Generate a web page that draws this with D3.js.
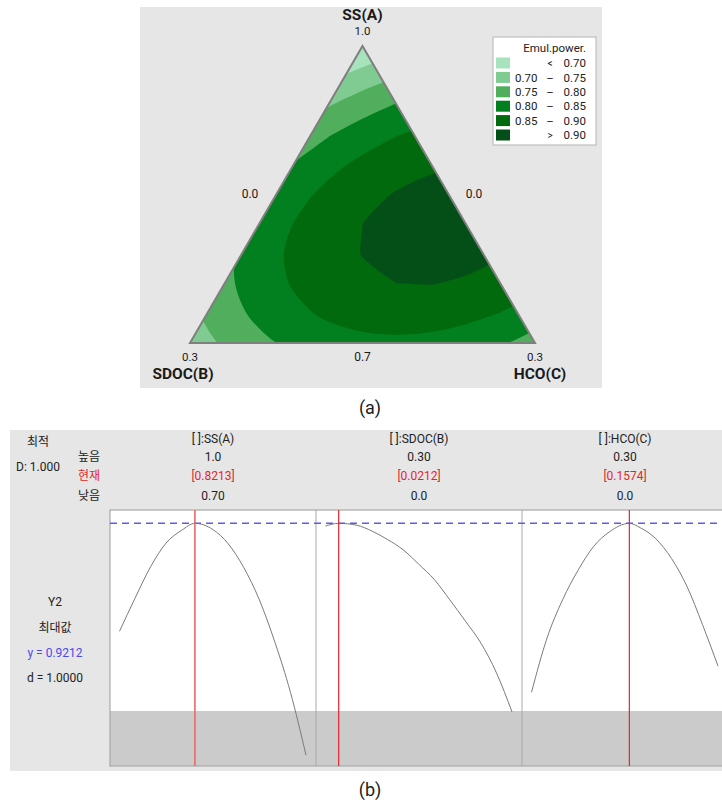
<!DOCTYPE html>
<html>
<head>
<meta charset="utf-8">
<script src="https://cdn.jsdelivr.net/npm/d3@7"></script>
<style>
body { margin: 0; background: #fff; overflow: hidden; }
text { font-family: Roboto, "Noto Sans CJK KR", sans-serif; }
</style>
</head>
<body>
<svg id="chart" width="722" height="806"></svg>
<script>
// ---------- (a) mixture contour data ----------
// columns: position across the base (0 = SDOC(B) corner, 1 = HCO(C) corner)
let gridU = [-0.1, 0, 0.1, 0.2, 0.3, 0.4, 0.5, 0.6, 0.7, 0.8, 0.9, 1.0, 1.1]
// rows: SS(A) pseudo component (0 = base, 1 = apex)
let gridV = [-0.1, 0, 0.1, 0.2, 0.3, 0.4, 0.5, 0.6, 0.7, 0.8, 0.9, 1.0, 1.1]
// Emul.power., one row per gridV value
let emulPower = [
    [0.648, 0.690, 0.724, 0.752, 0.773, 0.787, 0.793, 0.793, 0.786, 0.771, 0.7501, 0.722, 0.687],
    [0.676, 0.720, 0.758, 0.788, 0.812, 0.828, 0.838, 0.840, 0.836, 0.824, 0.806, 0.780, 0.748],
    [0.692, 0.739, 0.779, 0.812, 0.839, 0.858, 0.870, 0.876, 0.874, 0.865, 0.849, 0.827, 0.797],
    [0.696, 0.746, 0.789, 0.825, 0.854, 0.876, 0.892, 0.8997, 0.901, 0.895, 0.882, 0.862, 0.835],
    [0.689, 0.742, 0.788, 0.827, 0.859, 0.884, 0.901, 0.912, 0.916, 0.913, 0.903, 0.886, 0.862],
    [0.671, 0.726, 0.775, 0.817, 0.851, 0.879, 0.8999, 0.914, 0.920, 0.920, 0.913, 0.898, 0.877],
    [0.641, 0.699, 0.751, 0.795, 0.833, 0.863, 0.887, 0.903, 0.913, 0.915, 0.911, 0.899, 0.881],
    [0.600, 0.661, 0.715, 0.762, 0.803, 0.836, 0.862, 0.882, 0.894, 0.899, 0.898, 0.889, 0.873],
    [0.547, 0.611, 0.668, 0.718, 0.761, 0.797, 0.826, 0.849, 0.864, 0.872, 0.873, 0.867, 0.854],
    [0.483, 0.550, 0.609, 0.662, 0.708, 0.747, 0.779, 0.804, 0.822, 0.833, 0.837, 0.834, 0.823],
    [0.407, 0.477, 0.539, 0.595, 0.644, 0.686, 0.720, 0.748, 0.769, 0.782, 0.789, 0.789, 0.781],
    [0.320, 0.392, 0.458, 0.516, 0.568, 0.612, 0.650, 0.680, 0.704, 0.721, 0.730, 0.732, 0.728],
    [0.221, 0.297, 0.365, 0.426, 0.481, 0.528, 0.568, 0.602, 0.628, 0.647, 0.659, 0.665, 0.663]
]
let levels = [0.70, 0.75, 0.80, 0.85, 0.90]
let bandColors = ['#a7e3bc', '#80cb91', '#50ae5c', '#02801f', '#006a0c', '#044e18']
let legendLo = ['', '0.70', '0.75', '0.80', '0.85', '']
let legendSym = ['<', '–', '–', '–', '–', '>']
let legendHi = ['0.70', '0.75', '0.80', '0.85', '0.90', '0.90']
let legendTitle = 'Emul.power.'
let vertexNames = ['SDOC(B)', 'HCO(C)', 'SS(A)']
let vertexTicks = ['0.3', '0.3', '1.0']
let sideTicks = ['0.7', '0.0', '0.0'] // bottom, left, right

// ---------- (b) optimizer traces ----------
let factorNames = ['[ ]:SS(A)', '[ ]:SDOC(B)', '[ ]:HCO(C)']
let factorHigh = ['1.0', '0.30', '0.30']
let factorLow = ['0.70', '0.0', '0.0']
let factorMin = [0.70, 0, 0]
let factorMax = [1.0, 0.30, 0.30]
let factorCurrent = [0.8213, 0.0212, 0.1574]
let ssX = [0.70, 0.725, 0.75, 0.775, 0.80, 0.8213, 0.85, 0.875, 0.90, 0.925, 0.95, 0.975, 1.0]
let ssY = [0.794, 0.833, 0.870, 0.898, 0.913, 0.9212, 0.914, 0.897, 0.869, 0.831, 0.781, 0.722, 0.648]
let sdocX = [0, 0.0212, 0.05, 0.075, 0.10, 0.125, 0.15, 0.175, 0.20, 0.225, 0.25, 0.275, 0.30]
let sdocY = [0.918, 0.9212, 0.919, 0.912, 0.902, 0.890, 0.873, 0.855, 0.831, 0.806, 0.780, 0.745, 0.699]
let hcoX = [0, 0.025, 0.05, 0.075, 0.10, 0.125, 0.1574, 0.175, 0.20, 0.225, 0.25, 0.275, 0.30]
let hcoY = [0.722, 0.786, 0.831, 0.866, 0.894, 0.911, 0.9212, 0.916, 0.903, 0.880, 0.847, 0.802, 0.753]
let responseBest = 0.9212
let responseLower = 0.70

let svg = d3.select('#chart')
const red = '#e3262c'
const ink = '#222'

// ================= (a) =================
let uScale = d3.scaleLinear().domain([0, 1]).range([190, 535])
let vScale = d3.scaleLinear().domain([0, 1]).range([343, 46])

svg.append('rect').attr('x', 140).attr('y', 7).attr('width', 462).attr('height', 381).attr('fill', '#e6e6e6')

let corners = [[0, 0], [1, 0], [0.5, 1]]
let triPath = 'M' + corners.map(p => uScale(p[0]) + ',' + vScale(p[1])).join('L') + 'Z'
svg.append('clipPath').attr('id', 'triClip').append('path').attr('d', triPath)

let tri = svg.append('g').attr('clip-path', 'url(#triClip)')
tri.append('path').attr('d', triPath).attr('fill', bandColors[0])

let nu = gridU.length, nv = gridV.length
let contours = d3.contours().size([nu, nv]).thresholds(levels)(d3.merge(emulPower))
let gi = d3.scaleLinear().domain([0.5, nu - 0.5]).range([gridU[0], gridU[nu - 1]])
let gj = d3.scaleLinear().domain([0.5, nv - 0.5]).range([gridV[0], gridV[nv - 1]])
let ringLine = d3.line()
    .x(p => uScale(gi(p[0])))
    .y(p => vScale(gj(p[1])))
    .curve(d3.curveCatmullRomClosed.alpha(0.5))

function cleanRing(ring) {
    let pts = ring.slice(0, -1)
    return pts.filter((p, i) => {
        let q = pts[(i + 1) % pts.length]
        return Math.hypot(p[0] - q[0], p[1] - q[1]) > 1e-3
    })
}

tri.selectAll('path.band')
    .data(contours)
    .join('path')
    .attr('class', 'band')
    .attr('fill', (d, i) => bandColors[i + 1])
    .attr('fill-rule', 'evenodd')
    .attr('d', d => d.coordinates.map(poly => poly.map(ring => ringLine(cleanRing(ring))).join('')).join(''))

svg.append('path').attr('d', triPath).attr('fill', 'none').attr('stroke', '#7f7f7f').attr('stroke-width', 2)

// vertex names and ticks
let vx = [uScale(0) - 7, uScale(1) + 5, uScale(0.5)]
let nameY = [379, 379, 19.5]
let tickY = [361, 361, 34.5]
let tickX = [uScale(0), uScale(1), uScale(0.5)]
vertexNames.forEach((t, i) => {
    svg.append('text').text(t).attr('x', vx[i]).attr('y', nameY[i])
        .attr('text-anchor', 'middle').attr('font-size', 15.5).attr('font-weight', 'bold').attr('fill', '#1a1a1a')
    svg.append('text').text(vertexTicks[i]).attr('x', tickX[i]).attr('y', tickY[i])
        .attr('text-anchor', 'middle').attr('font-size', 11.5).attr('fill', '#1a1a1a')
})
let sidePos = [[uScale(0.5), 361], [250, 198], [474, 198]]
sideTicks.forEach((t, i) => {
    svg.append('text').text(t).attr('x', sidePos[i][0]).attr('y', sidePos[i][1])
        .attr('text-anchor', 'middle').attr('font-size', 12).attr('fill', '#1a1a1a')
})

// legend
let leg = svg.append('g')
leg.append('rect').attr('x', 493).attr('y', 37).attr('width', 103).attr('height', 108)
    .attr('fill', '#fff').attr('stroke', '#b4b4b4')
leg.append('text').text(legendTitle).attr('x', 586).attr('y', 51.5).attr('text-anchor', 'end')
    .attr('font-size', 11.5).attr('fill', ink)
let rowY = d3.scaleLinear().domain([0, 5]).range([63, 135])
bandColors.forEach((c, i) => {
    leg.append('rect').attr('x', 496).attr('y', rowY(i) - 5.5).attr('width', 14).attr('height', 11).attr('fill', c)
    leg.append('text').text(legendLo[i]).attr('x', 515).attr('y', rowY(i) + 4.2).attr('font-size', 11.5).attr('fill', ink)
    leg.append('text').text(legendSym[i]).attr('x', 550).attr('y', rowY(i) + 4.2).attr('text-anchor', 'middle')
        .attr('font-size', i == 0 || i == 5 ? 10 : 11.5).attr('fill', ink)
    leg.append('text').text(legendHi[i]).attr('x', 586).attr('y', rowY(i) + 4.2).attr('text-anchor', 'end')
        .attr('font-size', 11.5).attr('fill', ink)
})

svg.append('text').text('(a)').attr('x', 370).attr('y', 414).attr('text-anchor', 'middle')
    .attr('font-size', 18).attr('fill', ink)

// ================= (b) =================
let plotL = 110, plotT = 510, plotB = 766, panelW = 206
svg.append('rect').attr('x', 10).attr('y', 430).attr('width', 712).attr('height', 341).attr('fill', '#e6e6e6')

let yScale = d3.scaleLinear().domain([0.6352, 0.9369]).range([plotB, plotT])
let xScales = factorMin.map((lo, i) => d3.scaleLinear()
    .domain([lo, factorMax[i]])
    .range([plotL + i * panelW + 9.5, plotL + (i + 1) * panelW - 10]))

svg.append('rect').attr('x', plotL).attr('y', plotT).attr('width', panelW * 3).attr('height', plotB - plotT)
    .attr('fill', '#fff')
svg.append('rect').attr('x', plotL).attr('y', yScale(responseLower)).attr('width', panelW * 3)
    .attr('height', plotB - yScale(responseLower)).attr('fill', '#cbcbcb')
svg.append('rect').attr('x', plotL).attr('y', plotT).attr('width', panelW * 3).attr('height', plotB - plotT)
    .attr('fill', 'none').attr('stroke', '#a9a9a9').attr('stroke-width', 1.2)
d3.range(1, 3).forEach(i => {
    svg.append('line').attr('x1', plotL + i * panelW).attr('x2', plotL + i * panelW)
        .attr('y1', plotT).attr('y2', plotB).attr('stroke', '#a9a9a9')
})

let traceX = [ssX, sdocX, hcoX]
let traceY = [ssY, sdocY, hcoY]
traceX.forEach((xs, i) => {
    let line = d3.line().x(d => xScales[i](d)).y((d, k) => yScale(traceY[i][k])).curve(d3.curveMonotoneX)
    svg.append('path').attr('d', line(xs)).attr('fill', 'none').attr('stroke', '#7b7b7b').attr('stroke-width', 1)
})

svg.append('line').attr('x1', plotL).attr('x2', 722).attr('y1', yScale(responseBest)).attr('y2', yScale(responseBest))
    .attr('stroke', '#5c5cf0').attr('stroke-width', 1.4).attr('stroke-dasharray', '7,5')

factorCurrent.forEach((c, i) => {
    svg.append('line').attr('x1', xScales[i](c)).attr('x2', xScales[i](c))
        .attr('y1', plotT).attr('y2', plotB).attr('stroke', i == 0 ? '#e86a6a' : red).attr('stroke-width', i == 0 ? 1.6 : 1.2)
})

// header text
let rowYs = [443, 461, 480, 500]
factorNames.forEach((n, i) => {
    let cx = plotL + (i + 0.5) * panelW
    let vals = [n, factorHigh[i], '[' + factorCurrent[i].toFixed(4) + ']', factorLow[i]]
    vals.forEach((t, k) => {
        svg.append('text').text(t).attr('x', cx).attr('y', rowYs[k]).attr('text-anchor', 'middle')
            .attr('font-size', 12).attr('fill', k == 2 ? red : ink)
    })
})
let rowNames = ['높음', '현재', '낮음']
rowNames.forEach((t, k) => {
    svg.append('text').text(t).attr('x', 89).attr('y', rowYs[k + 1]).attr('text-anchor', 'middle')
        .attr('font-size', 12).attr('fill', k == 1 ? red : ink)
})
svg.append('text').text('최적').attr('x', 38).attr('y', 446).attr('text-anchor', 'middle').attr('font-size', 12).attr('fill', ink)
svg.append('text').text('D: 1.000').attr('x', 38).attr('y', 471).attr('text-anchor', 'middle').attr('font-size', 12).attr('fill', ink)

let respText = ['Y2', '최대값', 'y = ' + responseBest.toFixed(4), 'd = 1.0000']
let respY = [606, 632, 657, 682]
respText.forEach((t, k) => {
    svg.append('text').text(t).attr('x', 55).attr('y', respY[k]).attr('text-anchor', 'middle')
        .attr('font-size', 12).attr('fill', k == 2 ? '#4a4ae8' : ink)
})

svg.append('text').text('(b)').attr('x', 370).attr('y', 796).attr('text-anchor', 'middle')
    .attr('font-size', 18).attr('fill', ink)
</script>
</body>
</html>
